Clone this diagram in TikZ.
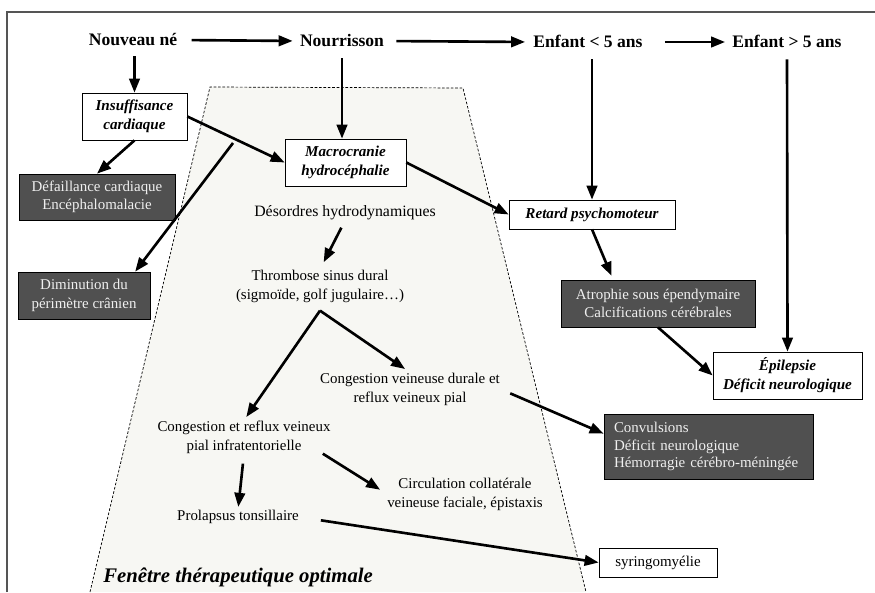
\documentclass[tikz,border=0pt]{standalone}
\usepackage{fontspec}
\setmainfont{Liberation Serif}
\usetikzlibrary{arrows.meta,positioning}

\definecolor{darkbox}{HTML}{505050}
\definecolor{lighttext}{HTML}{F0F0F0}
\definecolor{windowfill}{HTML}{F7F7F3}
\definecolor{framegray}{HTML}{555555}

\tikzset{
  stage/.style={font=\fontsize{10}{12}\selectfont\bfseries, inner sep=0pt, text height=1.7ex, text depth=.3ex},
  sign/.style={draw, fill=white, font=\fontsize{8.6}{10.8}\selectfont\bfseries\itshape, align=center, inner sep=0pt},
  effect/.style={draw, fill=darkbox, text=lighttext, font=\fontsize{8.5}{10.6}\selectfont, align=center, inner sep=0pt},
  mech/.style={font=\fontsize{8.5}{10.8}\selectfont, align=center, inner sep=0pt},
  arr/.style={line width=1.5pt, -{Triangle[length=8pt,width=6pt]}},
}

\begin{document}
\begin{tikzpicture}[x=0.02cm,y=-0.02cm]
  \useasboundingbox (0,0) rectangle (875,592);

  % fenetre therapeutique
  \fill[windowfill] (210,87) -- (463,88) -- (586,592) -- (90,592) -- cycle;
  \draw[dash pattern=on 1.5pt off 1pt,line width=0.4pt] (90,592) -- (210,87) -- (463,88) -- (586,592);
  \draw[framegray,line width=0.9pt] (7,592) -- (7,12) -- (875,12);

  % ages
  \node[stage] (nne) at (133,40) {Nouveau né};
  \node[stage] (nour) at (342,41) {Nourrisson};
  \node[stage] (enf1) at (588,42) {Enfant < 5 ans};
  \node[stage] (enf2) at (787,42) {Enfant > 5 ans};

  % signes
  \node[sign,minimum width=2.1cm,minimum height=0.94cm] (insuf) at (134.5,116.5) {Insuffisance\\cardiaque};
  \node[sign,minimum width=2.42cm,minimum height=0.94cm] (macro) at (345.5,162.5) {Macrocranie\\hydrocéphalie};
  \node[sign,minimum width=3.32cm,minimum height=0.58cm] (retard) at (592,214.5) {Retard psychomoteur};
  \node[sign,minimum width=2.98cm,minimum height=0.94cm] (epil) at (787.5,375.5) {Épilepsie\\Déficit neurologique};
  \node[draw,fill=white,mech,minimum width=2.36cm,minimum height=0.58cm] (syr) at (658,562.5) {syringomyélie};

  % consequences
  \node[effect,minimum width=3.12cm,minimum height=0.92cm] (defail) at (97,197) {Défaillance cardiaque\\Encéphalomalacie};
  \node[effect,minimum width=2.64cm,minimum height=0.94cm] (dimin) at (84,295.5) {Diminution du\\périmètre crânien};
  \node[effect,minimum width=3.88cm,minimum height=0.94cm] (atro) at (658,303.5) {Atrophie sous épendymaire\\Calcifications cérébrales};
  \node[effect,align=left,font=\fontsize{8.5}{10.2}\selectfont,minimum width=4.18cm,minimum height=1.3cm,text width=3.78cm,inner xsep=0.2cm] (conv) at (708.5,446.5) {Convulsions\\Déficit neurologique\\Hémorragie cérébro-méningée};

  % mecanismes
  \node[mech,font=\fontsize{9}{11}\selectfont] (deso) at (345,213) {Désordres hydrodynamiques};
  \node[mech] (thromb) at (320,286) {Thrombose sinus dural\\(sigmoïde, golf jugulaire…)};
  \node[mech] (congD) at (410,389) {Congestion veineuse durale et\\reflux veineux pial};
  \node[mech] (congI) at (244,437) {Congestion et reflux veineux\\pial infratentorielle};
  \node[mech] (circ) at (465,494) {Circulation collatérale\\veineuse faciale, épistaxis};
  \node[mech] (prol) at (238,517) {Prolapsus tonsillaire};
  \node[font=\fontsize{11.8}{14}\selectfont\bfseries\itshape,anchor=west,inner sep=0pt] (fen) at (103,577) {Fenêtre thérapeutique optimale};

  \coordinate (dimsrc) at (233,143);

  % fleches
  \draw[arr,shorten <=0.28cm,shorten >=0.14cm] (nne.east) -- (nour.west);
  \draw[arr,shorten <=0.24cm,shorten >=0.16cm] (nour.east) -- (enf1.west);
  \draw[arr,shorten <=0.44cm,shorten >=0.14cm] (enf1.east) -- (enf2.west);
  \draw[arr,shorten <=0.16cm] (insuf.north |- nne.south) -- (insuf.north);
  \draw[arr] (insuf.south) -- (defail.north);
  \draw[arr] (insuf.east) -- (macro.west);
  \draw[arr] (dimsrc) -- (dimin.25);
  \draw[arr,shorten <=0.18cm] (nour.south) -- (nour.south |- macro.north);
  \draw[arr] (macro.east) -- (retard.west);
  \draw[arr,shorten <=0.16cm,shorten >=0.16cm] (deso.south) -- (thromb.north);
  \draw[arr,shorten >=0.08cm] ([yshift=-0.16cm]thromb.south) -- (congI.north);
  \draw[arr,shorten >=0.12cm] ([yshift=-0.16cm]thromb.south) -- (congD.north);
  \draw[arr,shorten <=0.2cm,shorten >=0.06cm] (congI.south) -- (prol.north);
  \draw[arr,shorten >=0.16cm] ([xshift=-0.16cm]congI.south east) -- (circ.west);
  \draw[arr,shorten <=0.44cm] (prol.east) -- (syr.west);
  \draw[arr,shorten <=0.18cm] (retard.north |- enf1.south) -- (retard.north);
  \draw[arr,shorten >=0.08cm] (retard.south) -- (atro.152);
  \draw[arr,shorten <=0.18cm] (enf2.south) -- (epil.north);
  \draw[arr] (atro.south) -- (epil.west);
  \draw[arr,shorten <=0.22cm] (congD.east) -- (conv.173);
\end{tikzpicture}
\end{document}
